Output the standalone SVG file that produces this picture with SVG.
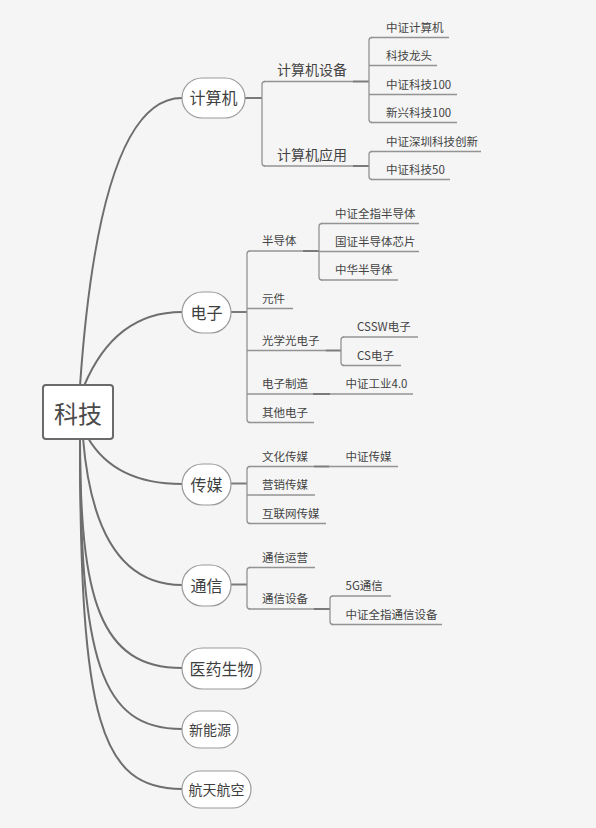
<svg xmlns="http://www.w3.org/2000/svg" width="596" height="828" viewBox="0 0 596 828">
<style>
.bg{fill:#f5f5f5}
.curve{fill:none;stroke:#6e6e6e;stroke-width:2}
.link{fill:none;stroke:#7a7a7a;stroke-width:2}
.br{fill:none;stroke:#939393;stroke-width:1.3}
.ul{fill:none;stroke:#939393;stroke-width:1.3}
.pill{fill:#fff;stroke:#9a9a9a;stroke-width:1.2}
.root{fill:#fff;stroke:#6a6a6a;stroke-width:2}
text{font-family:"Noto Sans CJK SC","Microsoft YaHei",sans-serif}
.t0{font-size:24px;fill:#4a4a4a;text-anchor:middle}
.t1{font-size:16px;fill:#3f3f3f;text-anchor:middle}
.t1s{font-size:14px;fill:#3f3f3f;text-anchor:middle}
.t2{font-size:14px;fill:#444}
.t3{font-size:11.5px;fill:#444}
</style>
<rect class="bg" x="0" y="0" width="596" height="828"/>
<g id="connectors">
  <path class="curve" d="M80 386 Q100 98 182 98"/>
  <path class="curve" d="M84 386 Q115 312 182 312"/>
  <path class="curve" d="M88 438 Q115 484 182 484"/>
  <path class="curve" d="M83 438 Q95 585 182 585"/>
  <path class="curve" d="M80 438 C80 600 100 668 182 668"/>
  <path class="curve" d="M80 438 C80 660 100 729 182 729"/>
  <path class="curve" d="M80 438 C80 720 100 789 182 789"/>
  <!-- 计算机 -->
  <path class="link" d="M245 98 H262"/>
  <path class="br" d="M265 81.5 Q262 81.5 262 84.5 V163 Q262 166 265 166"/>
  <path class="link" d="M353 81.5 H369"/>
  <path class="br" d="M372 37.5 Q369 37.5 369 40.5 V119.5 Q369 122.5 372 122.5"/>
  <path class="link" d="M353 166 H369"/>
  <path class="br" d="M372 151.5 Q369 151.5 369 154.5 V176.5 Q369 179.5 372 179.5"/>
  <!-- 电子 -->
  <path class="link" d="M231 312 H247"/>
  <path class="br" d="M250 251 Q247 251 247 254 V419.5 Q247 422.5 250 422.5"/>
  <path class="link" d="M303 251 H319"/>
  <path class="br" d="M322 223.5 Q319 223.5 319 226.5 V277 Q319 280 322 280"/>
  <path class="link" d="M325.5 350.5 H341"/>
  <path class="br" d="M344 337 Q341 337 341 340 V362.5 Q341 365.5 344 365.5"/>
  <path class="link" d="M313 394 H330"/>
  <!-- 传媒 -->
  <path class="link" d="M231 483.5 H247"/>
  <path class="br" d="M250 466.5 Q247 466.5 247 469.5 V520.5 Q247 523.5 250 523.5"/>
  <path class="link" d="M314 466.5 H329.5"/>
  <!-- 通信 -->
  <path class="link" d="M231 584.5 H247"/>
  <path class="br" d="M250 567.5 Q247 567.5 247 570.5 V606 Q247 609 250 609"/>
  <path class="link" d="M314 609 H330"/>
  <path class="br" d="M333 596 Q330 596 330 599 V621.5 Q330 624.5 333 624.5"/>
</g>
<g id="n-root">
  <rect class="root" x="43" y="385" width="70" height="54" rx="3"/>
  <text class="t0" x="78" y="423">科技</text>
</g>
<g id="n-jisuanji">
  <rect class="pill" x="182" y="78" width="63" height="40" rx="20"/>
  <text class="t1" x="213.5" y="104">计算机</text>
</g>
<g id="n-jsjsb">
  <path class="ul" d="M264 81.5 H353"/>
  <text class="t2" x="277" y="75">计算机设备</text>
</g>
<g id="n-zzjsj"><path class="ul" d="M371 37.5 H449"/><text class="t3" x="386" y="31.5">中证计算机</text></g>
<g id="n-kjlt"><path class="ul" d="M369 65.5 H437"/><text class="t3" x="386" y="59.5">科技龙头</text></g>
<g id="n-zzkj100"><path class="ul" d="M369 94.5 H457"/><text class="t3" x="386" y="88.5">中证科技100</text></g>
<g id="n-xxkj100"><path class="ul" d="M371 122.5 H457"/><text class="t3" x="386" y="116.5">新兴科技100</text></g>
<g id="n-jsjyy">
  <path class="ul" d="M264 166 H353"/>
  <text class="t2" x="277" y="159.5">计算机应用</text>
</g>
<g id="n-zzszkjcx"><path class="ul" d="M371 151.5 H481"/><text class="t3" x="386" y="145.5">中证深圳科技创新</text></g>
<g id="n-zzkj50"><path class="ul" d="M371 179.5 H450"/><text class="t3" x="386" y="173.5">中证科技50</text></g>

<g id="n-dianzi">
  <rect class="pill" x="182" y="292" width="49" height="41" rx="20.5"/>
  <text class="t1" x="206.5" y="318.5">电子</text>
</g>
<g id="n-bdt"><path class="ul" d="M249 251 H303"/><text class="t3" x="262" y="245">半导体</text></g>
<g id="n-zzqzbdt"><path class="ul" d="M321 223.5 H419"/><text class="t3" x="335" y="217.5">中证全指半导体</text></g>
<g id="n-gzbdtxp"><path class="ul" d="M319 251.5 H419"/><text class="t3" x="335" y="245.5">国证半导体芯片</text></g>
<g id="n-zhbdt"><path class="ul" d="M321 280 H398"/><text class="t3" x="335" y="274">中华半导体</text></g>
<g id="n-yj"><path class="ul" d="M247 308.5 H293"/><text class="t3" x="262" y="302.5">元件</text></g>
<g id="n-gxgdz"><path class="ul" d="M247 350.5 H325.5"/><text class="t3" x="262" y="344.5">光学光电子</text></g>
<g id="n-cssw"><path class="ul" d="M343 337 H418"/><text class="t3" x="357" y="331">CSSW电子</text></g>
<g id="n-cs"><path class="ul" d="M343 365.5 H401"/><text class="t3" x="357" y="359.5">CS电子</text></g>
<g id="n-dzzz"><path class="ul" d="M247 394 H313"/><text class="t3" x="262" y="388">电子制造</text></g>
<g id="n-zzgy"><path class="ul" d="M330 394 H413"/><text class="t3" x="345.5" y="388">中证工业4.0</text></g>
<g id="n-qtdz"><path class="ul" d="M249 422.5 H314"/><text class="t3" x="262" y="416.5">其他电子</text></g>

<g id="n-chuanmei">
  <rect class="pill" x="182" y="464" width="49" height="41" rx="20.5"/>
  <text class="t1" x="206.5" y="490.5">传媒</text>
</g>
<g id="n-whcm"><path class="ul" d="M249 466.5 H314"/><text class="t3" x="262" y="460.5">文化传媒</text></g>
<g id="n-zzcm"><path class="ul" d="M329.5 466.5 H398"/><text class="t3" x="345.5" y="460.5">中证传媒</text></g>
<g id="n-yxcm"><path class="ul" d="M247 495 H315"/><text class="t3" x="262" y="489">营销传媒</text></g>
<g id="n-hlwcm"><path class="ul" d="M249 523.5 H326"/><text class="t3" x="262" y="517.5">互联网传媒</text></g>

<g id="n-tongxin">
  <rect class="pill" x="182" y="565" width="49" height="41" rx="20.5"/>
  <text class="t1" x="206.5" y="591.5">通信</text>
</g>
<g id="n-txyy"><path class="ul" d="M249 567.5 H315"/><text class="t3" x="262" y="561.5">通信运营</text></g>
<g id="n-txsb"><path class="ul" d="M249 609 H314"/><text class="t3" x="262" y="603">通信设备</text></g>
<g id="n-5g"><path class="ul" d="M332 596 H391"/><text class="t3" x="345.5" y="590">5G通信</text></g>
<g id="n-zzqztxsb"><path class="ul" d="M332 624.5 H442"/><text class="t3" x="345.5" y="618.5">中证全指通信设备</text></g>

<g id="n-yysw">
  <rect class="pill" x="182" y="648" width="79" height="41" rx="20.5"/>
  <text class="t1" x="221.5" y="674.5">医药生物</text>
</g>
<g id="n-xny">
  <rect class="pill" x="182" y="711" width="56" height="37" rx="18.5"/>
  <text class="t1s" x="210" y="734.8">新能源</text>
</g>
<g id="n-htht">
  <rect class="pill" x="182" y="771" width="69" height="37" rx="18.5"/>
  <text class="t1s" x="216.5" y="794.8">航天航空</text>
</g>
</svg>
